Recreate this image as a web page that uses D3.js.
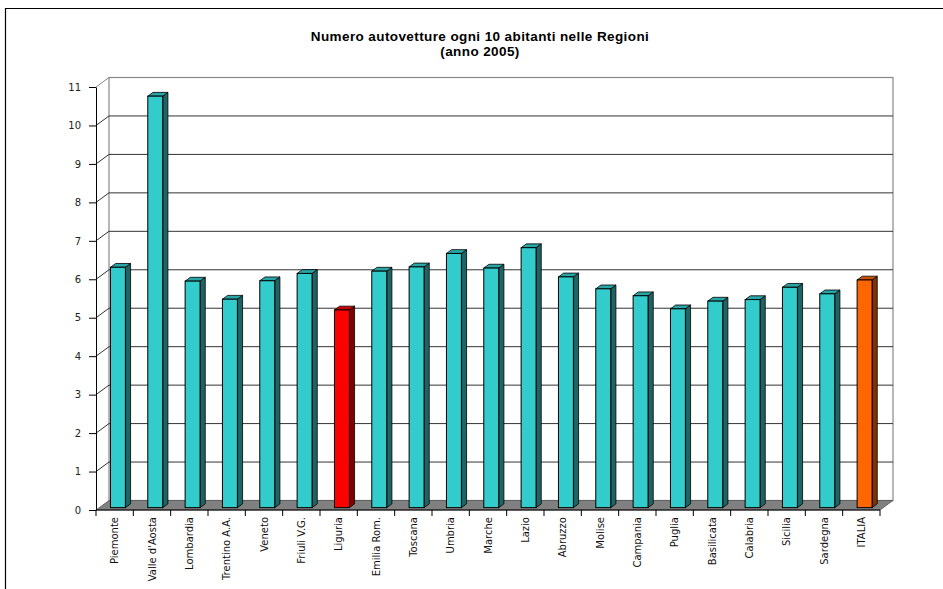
<!DOCTYPE html>
<html>
<head>
<meta charset="utf-8">
<script src="https://cdn.jsdelivr.net/npm/d3@7"></script>
<style>
  html, body { margin: 0; padding: 0; background: #fff; }
  svg { display: block; }
</style>
</head>
<body>
<svg id="chart" width="943" height="589"></svg>
<script>
const categories = ["Piemonte", "Valle d'Aosta", "Lombardia", "Trentino A.A.", "Veneto", "Friuli V.G.", "Liguria", "Emilia Rom.", "Toscana", "Umbria", "Marche", "Lazio", "Abruzzo", "Molise", "Campania", "Puglia", "Basilicata", "Calabria", "Sicilia", "Sardegna", "ITALIA"];
const values = [6.25, 10.70, 5.89, 5.42, 5.90, 6.09, 5.14, 6.15, 6.26, 6.61, 6.23, 6.76, 6.00, 5.69, 5.51, 5.17, 5.37, 5.41, 5.73, 5.56, 5.92];
const yTicks = [0, 1, 2, 3, 4, 5, 6, 7, 8, 9, 10, 11];
const titleLines = ["Numero autovetture ogni 10 abitanti nelle Regioni", "(anno 2005)"];

const colorsDefault = { front: "#33CCCC", top: "#2AA5A5", side: "#1F6464" };
const colorsSpecial = {
  "Liguria": { front: "#FF0000", top: "#CC0000", side: "#800000" },
  "ITALIA": { front: "#FF6600", top: "#CC5200", side: "#803300" }
};

const svg = d3.select("#chart");

// outer frame
svg.append("line").attr("x1", 5).attr("x2", 943).attr("y1", 8.5).attr("y2", 8.5).attr("stroke", "#000").attr("stroke-width", 1.2);
svg.append("line").attr("x1", 5.5).attr("x2", 5.5).attr("y1", 8).attr("y2", 589).attr("stroke", "#000").attr("stroke-width", 1.2);

// title
[41, 56].forEach((yy, i) => {
  svg.append("text").attr("x", 480).attr("y", yy).attr("text-anchor", "middle")
    .attr("font-family", "Liberation Sans, Arial, sans-serif").attr("font-weight", "bold")
    .attr("font-size", 13.5).attr("letter-spacing", 0.4)
    .text(titleLines[i]);
});

const x0 = 96, x1 = 880;
const x = d3.scaleBand().domain(categories).range([x0, x1]).padding(0);
const y = d3.scaleLinear().domain([0, 11]).range([510, 87]);
const depth = { dx: 13, dy: -9.5 };
const yMax = 11;

const g = svg.append("g");

// back wall
g.append("rect").attr("x", x0 + depth.dx).attr("y", y(yMax) + depth.dy)
  .attr("width", x1 - x0).attr("height", y(0) - y(yMax))
  .attr("fill", "#fff").attr("stroke", "#888").attr("stroke-width", 1.2);

// back wall gridlines
yTicks.filter(v => v > 0 && v < yMax).forEach(v => {
  g.append("line").attr("x1", x0 + depth.dx).attr("x2", x1 + depth.dx)
    .attr("y1", y(v) + depth.dy).attr("y2", y(v) + depth.dy)
    .attr("stroke", "#333").attr("stroke-width", 1);
});
// left wall diagonals
yTicks.filter(v => v > 0).forEach(v => {
  g.append("line").attr("x1", x0).attr("x2", x0 + depth.dx)
    .attr("y1", y(v)).attr("y2", y(v) + depth.dy)
    .attr("stroke", v === yMax ? "#888" : "#333").attr("stroke-width", 1);
});

// floor
g.append("polygon")
  .attr("points", [[x0, y(0)], [x1, y(0)], [x1 + depth.dx, y(0) + depth.dy], [x0 + depth.dx, y(0) + depth.dy]].map(p => p.join(",")).join(" "))
  .attr("fill", "#808080").attr("stroke", "#555").attr("stroke-width", 0.8);

// bars
const bw = x.bandwidth() * 0.4;
const bOff = { dx: depth.dx * 0.25, dy: depth.dy * 0.25 };
const bDep = { dx: depth.dx * 0.4, dy: depth.dy * 0.4 };
categories.forEach((c, i) => {
  const col = colorsSpecial[c] || colorsDefault;
  const left = x(c) + (x.bandwidth() - bw) / 2 + bOff.dx;
  const right = left + bw;
  const bottom = y(0) + bOff.dy;
  const top = y(values[i]) + bOff.dy;
  const bar = g.append("g");
  bar.append("polygon")
    .attr("points", [[right, bottom], [right + bDep.dx, bottom + bDep.dy], [right + bDep.dx, top + bDep.dy], [right, top]].map(p => p.join(",")).join(" "))
    .attr("fill", col.side).attr("stroke", "#000").attr("stroke-width", 0.8).attr("stroke-linejoin", "round");
  bar.append("polygon")
    .attr("points", [[left, top], [left + bDep.dx, top + bDep.dy], [right + bDep.dx, top + bDep.dy], [right, top]].map(p => p.join(",")).join(" "))
    .attr("fill", col.top).attr("stroke", "#000").attr("stroke-width", 0.8).attr("stroke-linejoin", "round");
  bar.append("rect").attr("x", left).attr("y", top).attr("width", bw).attr("height", bottom - top)
    .attr("fill", col.front).attr("stroke", "#000").attr("stroke-width", 1);
});

// y axis
const yAxis = d3.axisLeft(y).tickValues(yTicks).tickSize(7).tickSizeOuter(0).tickPadding(8).tickFormat(d3.format("d"));
const ya = svg.append("g").attr("transform", `translate(${x0},0)`).call(yAxis);
ya.select(".domain").attr("stroke", "#000");
ya.selectAll(".tick line").attr("stroke", "#000");
ya.selectAll(".tick text").attr("font-family", "DejaVu Sans, sans-serif").attr("font-size", 10).attr("fill", "#222");

// x axis
svg.append("line").attr("x1", x0).attr("x2", x1).attr("y1", y(0)).attr("y2", y(0)).attr("stroke", "#000");
const bounds = categories.map(c => x(c)).concat([x1]);
bounds.forEach(b => {
  svg.append("line").attr("x1", b).attr("x2", b).attr("y1", y(0)).attr("y2", y(0) + 6).attr("stroke", "#000");
});
categories.forEach(c => {
  const cx = x(c) + x.bandwidth() / 2;
  svg.append("text")
    .attr("transform", `translate(${cx},517) rotate(-90)`)
    .attr("text-anchor", "end").attr("dy", "0.35em")
    .attr("font-family", "DejaVu Sans, sans-serif").attr("font-size", 10).attr("fill", "#111")
    .text(c);
});
</script>
</body>
</html>
